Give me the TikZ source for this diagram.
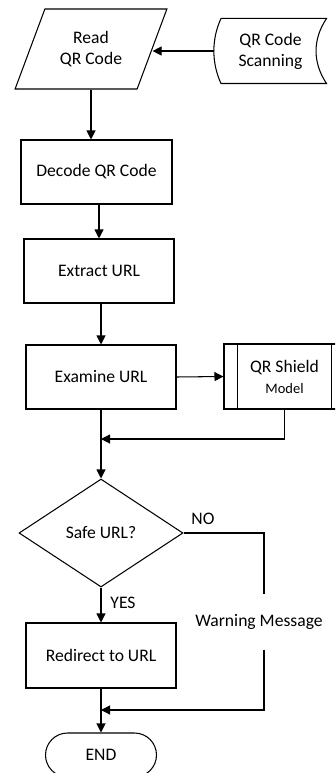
\documentclass[tikz,border=0pt]{standalone}
\usepackage{fontspec}
\setmainfont{Carlito}
\usetikzlibrary{arrows.meta,shapes.geometric,shapes.misc}
\begin{document}
\begin{tikzpicture}[x=1pt,y=-1pt, line width=1.05pt,
  every node/.style={font=\fontsize{17.6}{21}\selectfont, inner sep=0pt, align=center},
  box/.style={draw, rectangle, minimum width=150pt, minimum height=64pt},
  arr/.style={-{Triangle[length=9pt,width=9pt]}}]
\useasboundingbox (0,0) rectangle (335,773);
\clip (0,0) rectangle (335,773);
% nodes
\node[draw, trapezium, trapezium left angle=60.6, trapezium right angle=119.4,
      trapezium stretches=true, minimum width=152pt, minimum height=80pt] (read) at (91,49) {Read\\QR Code};
\node[minimum width=111pt, minimum height=64pt] (scan) at (270.5,51) {QR Code\\Scanning};
\node[box, minimum width=151pt] (decode) at (96.5,172) {Decode QR Code};
\node[box] (extract) at (99,271) {Extract URL};
\node[box] (examine) at (101,377) {Examine URL};
\node[draw, minimum width=121pt, minimum height=65pt] (shield) at (284.5,376.5) {QR Shield\\{\fontsize{14.5}{17}\selectfont Model}};
\node[draw, diamond, aspect=1.52, minimum width=164pt, minimum height=108pt] (safe) at (101,533) {Safe URL?};
\node[box, minimum height=65pt] (redirect) at (101,655.5) {Redirect to URL};
\node[draw, rounded rectangle, minimum width=111pt, minimum height=44pt] (endnode) at (101,755) {END};
\node (nolbl) at (203,519) {NO};
\node (yeslbl) at (123,603) {YES};
\node[minimum height=54pt] (warn) at (259,622) {Warning Message};
\coordinate (nocorner) at (264,533);
\coordinate (join1) at (101,439);
\coordinate (join2) at (101,710);
% stored data outline
\draw ([xshift=6.5pt]scan.north west) -- (scan.north east)
  .. controls ([xshift=-14pt,yshift=-21pt]scan.north east) and ([xshift=-14pt,yshift=21pt]scan.south east) .. (scan.south east)
  -- ([xshift=6.5pt]scan.south west)
  .. controls ([xshift=-3pt,yshift=21pt]scan.south west) and ([xshift=-3pt,yshift=-21pt]scan.north west) .. ([xshift=6.5pt]scan.north west) -- cycle;
% predefined process inner lines
\draw ([xshift=14pt]shield.north west) -- ([xshift=14pt]shield.south west);
\draw ([xshift=-14pt]shield.north east) -- ([xshift=-14pt]shield.south east);
% connectors
\draw[arr] (scan.west) -- (scan.west -| read.east);
\draw[arr] (read.south) -- (read.south |- decode.north);
\draw[arr] (extract.north |- decode.south) -- (extract.north);
\draw[arr] (examine.north |- extract.south) -- (examine.north);
\draw[arr] (examine.east) -- (shield.west);
\draw[arr] (examine.south) -- (safe.north);
\draw[arr] (shield.south) -- (shield.south |- join1) -- (join1);
\draw[arr] (safe.south) -- (redirect.north);
\draw[arr] (redirect.south) -- (endnode.north);
\draw (safe.east) -- (nocorner) -- (nocorner |- warn.north);
\draw[arr] (nocorner |- warn.south) -- (nocorner |- join2) -- (join2);
\end{tikzpicture}
\end{document}
